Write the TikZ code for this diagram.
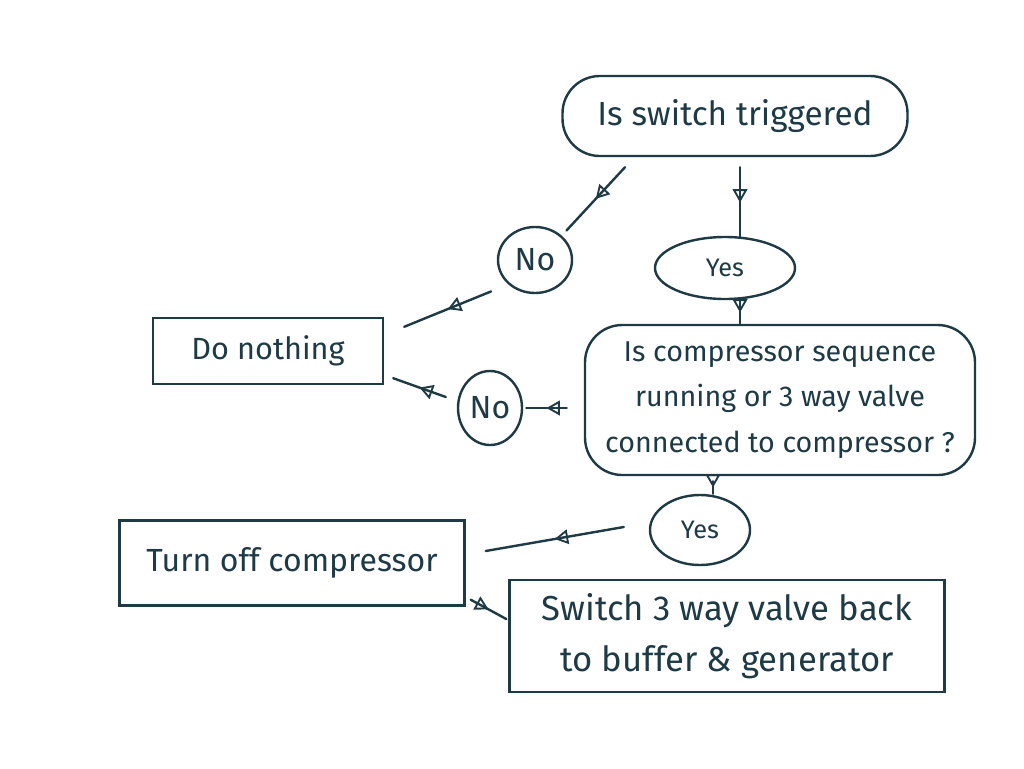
\documentclass[tikz,border=0pt]{standalone}
\usepackage{fontspec}
\setmainfont{Fira Sans}
\usetikzlibrary{shapes.geometric,arrows.meta,decorations.markings,calc}
\definecolor{ink}{HTML}{1E3A44}
\tikzset{
  base/.style={draw=ink, text=ink, line width=1.8pt, font=\fontsize{23}{34}\selectfont, align=center, inner sep=0pt},
  box/.style={base, rectangle},
  rbox/.style={base, rectangle, rounded corners=28pt},
  oval/.style={base, ellipse},
  conn/.style={draw=ink, line width=1.8pt, line cap=round,
    postaction={decorate},
    decoration={markings, mark=at position 0.5 with {\arrow[ink, line width=1.4pt]{Triangle[open, length=10pt, width=11pt]}}}}
}
\begin{document}
\begin{tikzpicture}[x=0.75pt,y=-0.75pt]
\useasboundingbox[fill=white] (0,0) rectangle (1024,768);
% nodes
\node[rbox, minimum width=345*0.75pt, minimum height=80*0.75pt, font=\fontsize{25}{30}\selectfont] (trig) at (735,116) {Is switch triggered};
\node[oval, minimum width=74*0.75pt, minimum height=66*0.75pt, font=\fontsize{24}{28}\selectfont] (no1) at (535,260) {No};
\node[box, minimum width=230*0.75pt, minimum height=66*0.75pt] (donoth) at (268,351) {Do nothing};
\node[oval, minimum width=140*0.75pt, minimum height=62*0.75pt, font=\fontsize{19}{20}\selectfont] (yes1) at (725,268) {Yes};
\node[rbox, minimum width=390*0.75pt, minimum height=150*0.75pt, font=\fontsize{21.5}{34}\selectfont] (comp) at (780,400) {Is compressor sequence\\running or 3 way valve\\connected to compressor ?};
\node[oval, minimum width=64*0.75pt, minimum height=74*0.75pt, font=\fontsize{24}{28}\selectfont] (no2) at (490,408) {No};
\node[oval, minimum width=100*0.75pt, minimum height=70*0.75pt, font=\fontsize{19}{20}\selectfont] (yes2) at (700,530) {Yes};
\node[box, minimum width=345*0.75pt, minimum height=85*0.75pt, font=\fontsize{24}{30}\selectfont] (turnoff) at (292,563) {Turn off compressor};
\node[box, minimum width=435*0.75pt, minimum height=112*0.75pt, font=\fontsize{26}{38}\selectfont] (switch) at (727,636) {Switch 3 way valve back\\to buffer \& generator};
% connectors
\draw[conn] ($(trig.south)+(-110,10)$) -- ($(no1.45)+(6,-4)$);
\draw[conn] ($(no1.220)+(-16,8)$) -- ($(donoth.north east)+(20,10)$);
\coordinate (t1) at ($(trig.south)+(5,10)$);
\draw[conn] (t1) -- ($(t1 |- yes1.north)+(0,2)$);
\coordinate (y1) at ($(yes1.south)+(15,1)$);
\draw[conn] (y1) -- (y1 |- comp.north);
\draw[conn] ($(comp.west)+(-17,8)$) -- ($(no2.east)+(3,0)$);
\draw[conn] ($(no2.west)+(-11,-11)$) -- ($(donoth.south east)+(9,-7)$);
\coordinate (c2) at ($(comp.south)+(-67,5)$);
\draw[conn] (c2) -- (c2 |- yes2.north);
\draw[conn] ($(yes2.west)+(-25,-3)$) -- ($(turnoff.east)+(20,-12)$);
\draw[conn] ($(turnoff.south east)+(5,-7)$) -- ($(switch.west)+(-2,-17)$);
\end{tikzpicture}
\end{document}
